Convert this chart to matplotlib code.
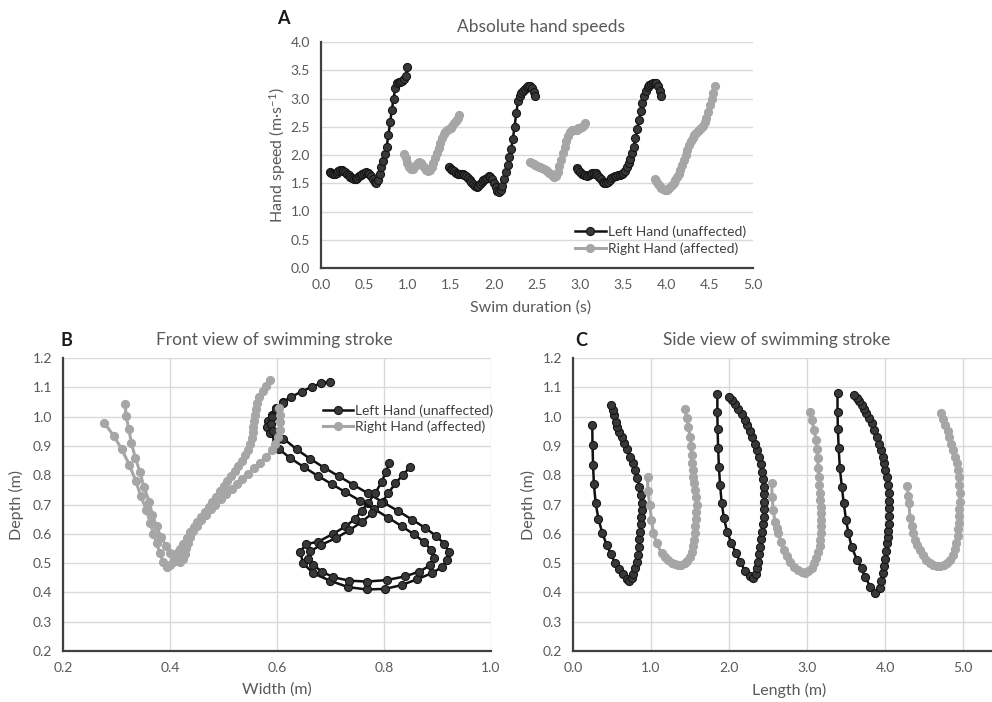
"""Hand speed and stroke path figure (panels A-C)"""

import numpy as np
import matplotlib.pyplot as plt
from matplotlib.ticker import FormatStrFormatter

FONT = "Lato"
TEXT_COLOR = "#595959"
GRID_COLOR = "#d9d9d9"
AXIS_COLOR = "#404040"

LEFT_STYLE = dict(color="#111111", lw=1.8, marker="o", ms=5.8,
                  mfc="#383838", mec="#151515", mew=0.8)
RIGHT_STYLE = dict(color="#a6a6a6", lw=2.2, marker="o", ms=5.8,
                   mfc="#a6a6a6", mec="#a6a6a6", mew=0.8)

LEGEND_LABELS = ["Left Hand (unaffected)", "Right Hand (affected)"]

# ---- Panel A: absolute hand speed, sampled at 50 Hz ----
SAMPLE_DT = 0.02

A_LEFT_START = [0.10, 1.48, 2.96]
A_LEFT_SPEED_1 = [1.70, 1.68, 1.66, 1.66, 1.68, 1.71, 1.73, 1.73, 1.72, 1.70,
                  1.67, 1.64, 1.61, 1.59, 1.58, 1.58, 1.60, 1.62, 1.64, 1.66,
                  1.68, 1.70, 1.69, 1.66, 1.62, 1.57, 1.52, 1.50, 1.55, 1.66,
                  1.78, 1.90, 2.02, 2.15, 2.35, 2.58, 2.80, 3.00, 3.18, 3.27,
                  3.30, 3.30, 3.31, 3.34, 3.40, 3.56]
A_LEFT_SPEED_2 = [1.79, 1.76, 1.73, 1.71, 1.69, 1.67, 1.66, 1.66, 1.66, 1.65,
                  1.63, 1.60, 1.56, 1.52, 1.48, 1.45, 1.44, 1.45, 1.48, 1.52,
                  1.55, 1.58, 1.60, 1.62, 1.61, 1.57, 1.50, 1.43, 1.37, 1.35,
                  1.38, 1.46, 1.58, 1.70, 1.83, 1.96, 2.10, 2.28, 2.50, 2.74,
                  2.95, 3.05, 3.10, 3.14, 3.17, 3.20, 3.22, 3.22, 3.18, 3.12,
                  3.05]
A_LEFT_SPEED_3 = [1.77, 1.73, 1.70, 1.67, 1.65, 1.64, 1.63, 1.64, 1.66, 1.68,
                  1.69, 1.68, 1.65, 1.61, 1.57, 1.53, 1.51, 1.51, 1.53, 1.56,
                  1.59, 1.61, 1.62, 1.63, 1.64, 1.65, 1.66, 1.68, 1.72, 1.78,
                  1.85, 1.93, 2.03, 2.15, 2.30, 2.46, 2.62, 2.78, 2.92, 3.05,
                  3.14, 3.20, 3.24, 3.26, 3.27, 3.28, 3.27, 3.22, 3.14, 3.05]

A_RIGHT_START = [0.96, 2.42, 3.86]
A_RIGHT_SPEED_1 = [2.02, 1.95, 1.86, 1.79, 1.76, 1.76, 1.78, 1.82, 1.86, 1.87,
                   1.85, 1.81, 1.77, 1.74, 1.72, 1.73, 1.78, 1.86, 1.95, 2.04,
                   2.13, 2.22, 2.30, 2.37, 2.41, 2.44, 2.46, 2.48, 2.52, 2.56,
                   2.60, 2.65, 2.70]
A_RIGHT_SPEED_2 = [1.88, 1.86, 1.84, 1.82, 1.80, 1.79, 1.78, 1.77, 1.76, 1.74,
                   1.72, 1.69, 1.66, 1.63, 1.61, 1.62, 1.70, 1.80, 1.92, 2.04,
                   2.15, 2.25, 2.33, 2.40, 2.44, 2.45, 2.44, 2.45, 2.47, 2.48,
                   2.50, 2.53, 2.56]
A_RIGHT_SPEED_3 = [1.58, 1.54, 1.49, 1.45, 1.41, 1.39, 1.38, 1.38, 1.40, 1.43,
                   1.47, 1.51, 1.56, 1.61, 1.67, 1.74, 1.82, 1.91, 2.00, 2.09,
                   2.17, 2.24, 2.30, 2.35, 2.39, 2.42, 2.45, 2.48, 2.52, 2.58,
                   2.66, 2.76, 2.88, 3.00, 3.10, 3.22]

# ---- Panel B: front view, (width m, depth m) ----
B_LEFT_1 = [(0.699, 1.119), (0.683, 1.114), (0.665, 1.102), (0.646, 1.085),
            (0.627, 1.068), (0.612, 1.051), (0.599, 1.028), (0.590, 1.005),
            (0.584, 0.986), (0.582, 0.966), (0.587, 0.945), (0.598, 0.932),
            (0.612, 0.925), (0.637, 0.888), (0.662, 0.856), (0.688, 0.826),
            (0.715, 0.797), (0.742, 0.768), (0.770, 0.738), (0.798, 0.708),
            (0.826, 0.678), (0.853, 0.648), (0.877, 0.620), (0.898, 0.592),
            (0.913, 0.565), (0.921, 0.538), (0.918, 0.510), (0.908, 0.486),
            (0.890, 0.466), (0.862, 0.445), (0.833, 0.425), (0.802, 0.412),
            (0.768, 0.410), (0.733, 0.418), (0.699, 0.440), (0.668, 0.465),
            (0.649, 0.499), (0.643, 0.539), (0.655, 0.565), (0.677, 0.573),
            (0.705, 0.600), (0.728, 0.625), (0.745, 0.650), (0.758, 0.678),
            (0.770, 0.705), (0.784, 0.740), (0.796, 0.778), (0.803, 0.810),
            (0.810, 0.841)]
B_LEFT_2 = [(0.612, 1.045), (0.598, 1.025), (0.590, 1.000), (0.588, 0.975),
            (0.592, 0.950), (0.598, 0.918), (0.603, 0.890), (0.625, 0.858),
            (0.650, 0.828), (0.676, 0.798), (0.702, 0.770), (0.728, 0.742),
            (0.755, 0.713), (0.782, 0.684), (0.808, 0.655), (0.833, 0.626),
            (0.856, 0.598), (0.875, 0.572), (0.888, 0.545), (0.894, 0.518),
            (0.886, 0.492), (0.866, 0.471), (0.840, 0.455), (0.805, 0.442),
            (0.768, 0.437), (0.735, 0.440), (0.705, 0.452), (0.685, 0.470),
            (0.668, 0.492), (0.658, 0.515), (0.662, 0.540), (0.682, 0.562),
            (0.710, 0.585), (0.735, 0.612), (0.758, 0.640), (0.778, 0.670),
            (0.795, 0.705), (0.808, 0.738), (0.821, 0.772), (0.835, 0.800),
            (0.849, 0.829)]
B_RIGHT_1 = [(0.277, 0.979), (0.295, 0.934), (0.310, 0.888), (0.324, 0.835),
             (0.336, 0.781), (0.345, 0.730), (0.356, 0.681), (0.363, 0.637),
             (0.369, 0.600), (0.375, 0.568), (0.381, 0.534), (0.387, 0.505),
             (0.394, 0.488), (0.400, 0.495), (0.405, 0.505), (0.409, 0.518),
             (0.414, 0.533), (0.419, 0.548), (0.425, 0.565), (0.431, 0.585),
             (0.437, 0.605), (0.444, 0.623), (0.451, 0.641), (0.458, 0.658),
             (0.465, 0.675), (0.472, 0.692), (0.479, 0.710), (0.486, 0.727),
             (0.493, 0.745), (0.500, 0.762), (0.507, 0.780), (0.514, 0.797),
             (0.521, 0.815), (0.528, 0.832), (0.535, 0.850), (0.541, 0.868),
             (0.546, 0.887), (0.550, 0.906), (0.553, 0.926), (0.555, 0.946),
             (0.556, 0.966), (0.557, 0.986), (0.558, 1.006), (0.560, 1.026),
             (0.563, 1.046), (0.567, 1.066), (0.573, 1.087), (0.579, 1.106),
             (0.587, 1.125)]
B_RIGHT_2 = [(0.316, 1.043), (0.318, 1.002), (0.323, 0.957), (0.328, 0.909),
             (0.335, 0.860), (0.344, 0.810), (0.351, 0.761), (0.361, 0.710),
             (0.367, 0.665), (0.375, 0.625), (0.383, 0.590), (0.392, 0.560),
             (0.400, 0.535), (0.408, 0.515), (0.419, 0.505), (0.425, 0.515),
             (0.428, 0.530), (0.430, 0.550), (0.433, 0.570), (0.437, 0.590),
             (0.443, 0.610), (0.450, 0.628), (0.458, 0.646), (0.467, 0.665),
             (0.476, 0.683), (0.485, 0.700), (0.495, 0.718), (0.505, 0.735),
             (0.515, 0.752), (0.525, 0.770), (0.535, 0.787), (0.546, 0.805),
             (0.557, 0.823), (0.568, 0.843), (0.580, 0.863), (0.590, 0.885),
             (0.597, 0.908), (0.602, 0.930), (0.605, 0.955), (0.606, 0.980),
             (0.605, 1.005), (0.603, 1.030)]

# ---- Panel C: side view, (length m, depth m) ----
C_LEFT_1 = [(0.247, 0.971), (0.250, 0.903), (0.257, 0.835), (0.268, 0.769),
            (0.290, 0.705), (0.325, 0.652), (0.376, 0.602), (0.432, 0.562),
            (0.487, 0.530), (0.538, 0.501), (0.590, 0.479), (0.637, 0.463),
            (0.688, 0.446), (0.722, 0.439), (0.752, 0.448), (0.770, 0.463),
            (0.795, 0.482), (0.816, 0.505), (0.830, 0.527), (0.842, 0.556),
            (0.850, 0.581), (0.859, 0.607), (0.867, 0.633), (0.876, 0.658),
            (0.880, 0.681), (0.880, 0.704), (0.868, 0.732), (0.850, 0.761),
            (0.824, 0.789), (0.795, 0.818), (0.765, 0.840), (0.731, 0.863),
            (0.688, 0.888), (0.654, 0.909), (0.624, 0.929), (0.594, 0.949),
            (0.568, 0.966), (0.547, 0.983), (0.526, 1.005), (0.510, 1.022),
            (0.487, 1.040)]
C_LEFT_2 = [(1.850, 1.077), (1.850, 1.017), (1.853, 0.958), (1.860, 0.892),
            (1.870, 0.829), (1.885, 0.767), (1.906, 0.704), (1.935, 0.653),
            (1.975, 0.607), (2.030, 0.568), (2.090, 0.533), (2.140, 0.505),
            (2.205, 0.474), (2.265, 0.455), (2.310, 0.448), (2.340, 0.462),
            (2.355, 0.482), (2.368, 0.505), (2.385, 0.530), (2.400, 0.556),
            (2.413, 0.582), (2.425, 0.607), (2.435, 0.633), (2.443, 0.658),
            (2.448, 0.684), (2.450, 0.710), (2.448, 0.736), (2.443, 0.761),
            (2.435, 0.786), (2.422, 0.812), (2.405, 0.838), (2.385, 0.862),
            (2.360, 0.886), (2.333, 0.908), (2.300, 0.930), (2.268, 0.950),
            (2.235, 0.970), (2.200, 0.990), (2.160, 1.008), (2.120, 1.026),
            (2.080, 1.042), (2.040, 1.057), (2.000, 1.068)]
C_LEFT_3 = [(3.390, 1.080), (3.390, 1.017), (3.395, 0.958), (3.405, 0.892),
            (3.420, 0.824), (3.445, 0.761), (3.470, 0.704), (3.500, 0.647),
            (3.530, 0.602), (3.570, 0.556), (3.640, 0.511), (3.700, 0.482),
            (3.740, 0.454), (3.810, 0.420), (3.870, 0.397), (3.930, 0.414),
            (3.950, 0.440), (3.970, 0.465), (3.990, 0.490), (4.000, 0.515),
            (4.012, 0.540), (4.022, 0.568), (4.032, 0.590), (4.040, 0.610),
            (4.047, 0.635), (4.050, 0.660), (4.052, 0.687), (4.050, 0.712),
            (4.045, 0.738), (4.035, 0.765), (4.020, 0.795), (4.005, 0.818),
            (3.990, 0.840), (3.970, 0.863), (3.945, 0.886), (3.918, 0.908),
            (3.890, 0.931), (3.860, 0.955), (3.830, 0.977), (3.795, 0.995),
            (3.760, 1.011), (3.730, 1.026), (3.700, 1.040), (3.670, 1.052),
            (3.640, 1.062), (3.600, 1.074)]
C_RIGHT_1 = [(0.955, 0.795), (0.960, 0.745), (0.985, 0.698), (1.005, 0.647),
             (1.030, 0.602), (1.073, 0.568), (1.137, 0.533), (1.180, 0.520),
             (1.222, 0.511), (1.265, 0.502), (1.310, 0.496), (1.350, 0.494),
             (1.390, 0.495), (1.430, 0.499), (1.465, 0.508), (1.495, 0.521),
             (1.520, 0.537), (1.537, 0.558), (1.550, 0.580), (1.560, 0.603),
             (1.568, 0.627), (1.575, 0.650), (1.580, 0.675), (1.583, 0.700),
             (1.575, 0.727), (1.563, 0.750), (1.551, 0.772), (1.542, 0.795),
             (1.534, 0.818), (1.527, 0.843), (1.520, 0.869), (1.510, 0.900),
             (1.500, 0.931), (1.479, 0.966), (1.457, 0.994), (1.436, 1.026)]
C_RIGHT_2 = [(2.547, 0.772), (2.552, 0.727), (2.565, 0.681), (2.590, 0.640),
             (2.610, 0.620), (2.630, 0.602), (2.665, 0.572), (2.700, 0.545),
             (2.740, 0.523), (2.780, 0.505), (2.835, 0.488), (2.890, 0.476),
             (2.930, 0.469), (2.970, 0.467), (3.015, 0.472), (3.060, 0.484),
             (3.095, 0.500), (3.120, 0.518), (3.142, 0.537), (3.160, 0.558),
             (3.170, 0.580), (3.175, 0.602), (3.178, 0.625), (3.180, 0.648),
             (3.178, 0.670), (3.175, 0.693), (3.168, 0.716), (3.160, 0.738),
             (3.155, 0.766), (3.148, 0.795), (3.142, 0.826), (3.135, 0.858),
             (3.125, 0.890), (3.115, 0.920), (3.090, 0.954), (3.060, 0.988),
             (3.040, 1.017)]
C_RIGHT_3 = [(4.285, 0.762), (4.295, 0.730), (4.305, 0.704), (4.320, 0.653),
             (4.340, 0.625), (4.355, 0.602), (4.380, 0.580), (4.410, 0.562),
             (4.445, 0.545), (4.480, 0.528), (4.530, 0.512), (4.580, 0.500),
             (4.620, 0.494), (4.660, 0.491), (4.705, 0.490), (4.750, 0.492),
             (4.790, 0.500), (4.830, 0.512), (4.865, 0.527), (4.895, 0.547),
             (4.915, 0.568), (4.930, 0.592), (4.938, 0.615), (4.943, 0.638),
             (4.948, 0.660), (4.952, 0.683), (4.955, 0.710), (4.955, 0.738),
             (4.953, 0.766), (4.948, 0.795), (4.935, 0.818), (4.920, 0.840),
             (4.900, 0.863), (4.875, 0.886), (4.850, 0.908), (4.825, 0.931),
             (4.800, 0.951), (4.770, 0.971), (4.740, 0.991), (4.710, 1.011)]

W, H = 992, 702


def px_box(left, top, right, bottom):
    """pixel box -> figure fraction rect"""
    return [left / W, 1 - bottom / H, (right - left) / W, (bottom - top) / H]


def style_axes(ax, xgrid=True):
    for side in ["top", "right"]:
        ax.spines[side].set_visible(False)
    for side in ["left", "bottom"]:
        ax.spines[side].set_color(AXIS_COLOR)
        ax.spines[side].set_linewidth(1.6)
    ax.grid(axis="y", color=GRID_COLOR, lw=1.0)
    if xgrid:
        ax.grid(axis="x", color=GRID_COLOR, lw=1.0)
    ax.set_axisbelow(True)
    ax.tick_params(length=0, labelsize=10, labelcolor=TEXT_COLOR, pad=8)
    ax.xaxis.set_major_formatter(FormatStrFormatter("%.1f"))
    ax.yaxis.set_major_formatter(FormatStrFormatter("%.1f"))


def set_labels(ax, xlabel, ylabel, xpos, ypos):
    ax.set_xlabel(xlabel, fontsize=11.5, color=TEXT_COLOR)
    ax.set_ylabel(ylabel, fontsize=11.5, color=TEXT_COLOR)
    ax.xaxis.set_label_coords(*xpos)
    ax.yaxis.set_label_coords(*ypos)
    ax.xaxis.label.set_verticalalignment("center")
    ax.yaxis.label.set_verticalalignment("center")


def plot_strokes(ax, strokes, style, label):
    for i, pts in enumerate(strokes):
        xs, ys = zip(*pts)
        ax.plot(xs, ys, label=label if i == 0 else None, **style)


def add_legend(ax, anchor):
    ax.legend(loc="center left", bbox_to_anchor=anchor, frameon=False,
              fontsize=10, labelcolor=AXIS_COLOR, handlelength=2.2,
              handletextpad=0.15, borderpad=0, borderaxespad=0,
              labelspacing=0.3, numpoints=1)


plt.rcParams["font.family"] = [FONT, "DejaVu Sans"]
plt.rcParams["mathtext.default"] = "regular"

fig = plt.figure(figsize=(W / 100, H / 100), dpi=100)
ax_a = fig.add_axes(px_box(321, 42, 753, 268))
ax_b = fig.add_axes(px_box(63, 358, 491, 651))
ax_c = fig.add_axes(px_box(573, 358, 992, 651))

# A
left_speed = [A_LEFT_SPEED_1, A_LEFT_SPEED_2, A_LEFT_SPEED_3]
right_speed = [A_RIGHT_SPEED_1, A_RIGHT_SPEED_2, A_RIGHT_SPEED_3]
for i, (t0, v) in enumerate(zip(A_LEFT_START, left_speed)):
    t = t0 + SAMPLE_DT * np.arange(len(v))
    ax_a.plot(t, v, label=LEGEND_LABELS[0] if i == 0 else None, **LEFT_STYLE)
for i, (t0, v) in enumerate(zip(A_RIGHT_START, right_speed)):
    t = t0 + SAMPLE_DT * np.arange(len(v))
    ax_a.plot(t, v, label=LEGEND_LABELS[1] if i == 0 else None, **RIGHT_STYLE)
style_axes(ax_a, xgrid=False)
ax_a.set_xlim(0, 5)
ax_a.set_ylim(0, 4)
ax_a.set_xticks(np.arange(0, 5.01, 0.5))
ax_a.set_yticks(np.arange(0, 4.01, 0.5))
set_labels(ax_a, "Swim duration (s)", "Hand speed (m·s$^{-1}$)",
           (0.484, -0.177), (-0.0995, 0.5))
add_legend(ax_a, (0.588, 0.122))

# B
plot_strokes(ax_b, [B_LEFT_1, B_LEFT_2], LEFT_STYLE, LEGEND_LABELS[0])
plot_strokes(ax_b, [B_RIGHT_1, B_RIGHT_2], RIGHT_STYLE, LEGEND_LABELS[1])
style_axes(ax_b)
ax_b.set_xlim(0.2, 1.0)
ax_b.set_ylim(0.2, 1.2)
ax_b.set_xticks(np.arange(0.2, 1.01, 0.2))
ax_b.set_yticks(np.arange(0.2, 1.21, 0.1))
set_labels(ax_b, "Width (m)", "Depth (m)", (0.5, -0.133), (-0.108, 0.5))
add_legend(ax_b, (0.607, 0.793))

# C
plot_strokes(ax_c, [C_LEFT_1, C_LEFT_2, C_LEFT_3], LEFT_STYLE, LEGEND_LABELS[0])
plot_strokes(ax_c, [C_RIGHT_1, C_RIGHT_2, C_RIGHT_3], RIGHT_STYLE, LEGEND_LABELS[1])
style_axes(ax_c)
ax_c.set_xlim(0, 5.37)
ax_c.set_ylim(0.2, 1.2)
ax_c.set_xticks(np.arange(0, 5.01, 1.0))
ax_c.set_yticks(np.arange(0.2, 1.21, 0.1))
set_labels(ax_c, "Length (m)", "Depth (m)", (0.515, -0.133), (-0.107, 0.5))

# titles and panel letters
for txt, x, y in [("Absolute hand speeds", 541, 27),
                  ("Front view of swimming stroke", 274, 340),
                  ("Side view of swimming stroke", 777, 340)]:
    fig.text(x / W, 1 - y / H, txt, ha="center", va="center",
             fontsize=12.5, color=TEXT_COLOR)
for txt, x, y in [("A", 283, 18), ("B", 66, 341), ("C", 581, 341)]:
    fig.text(x / W, 1 - y / H, txt, ha="center", va="center",
             fontsize=13, fontweight="bold", color="#1a1a1a")

fig.savefig("out.png", dpi=100)
